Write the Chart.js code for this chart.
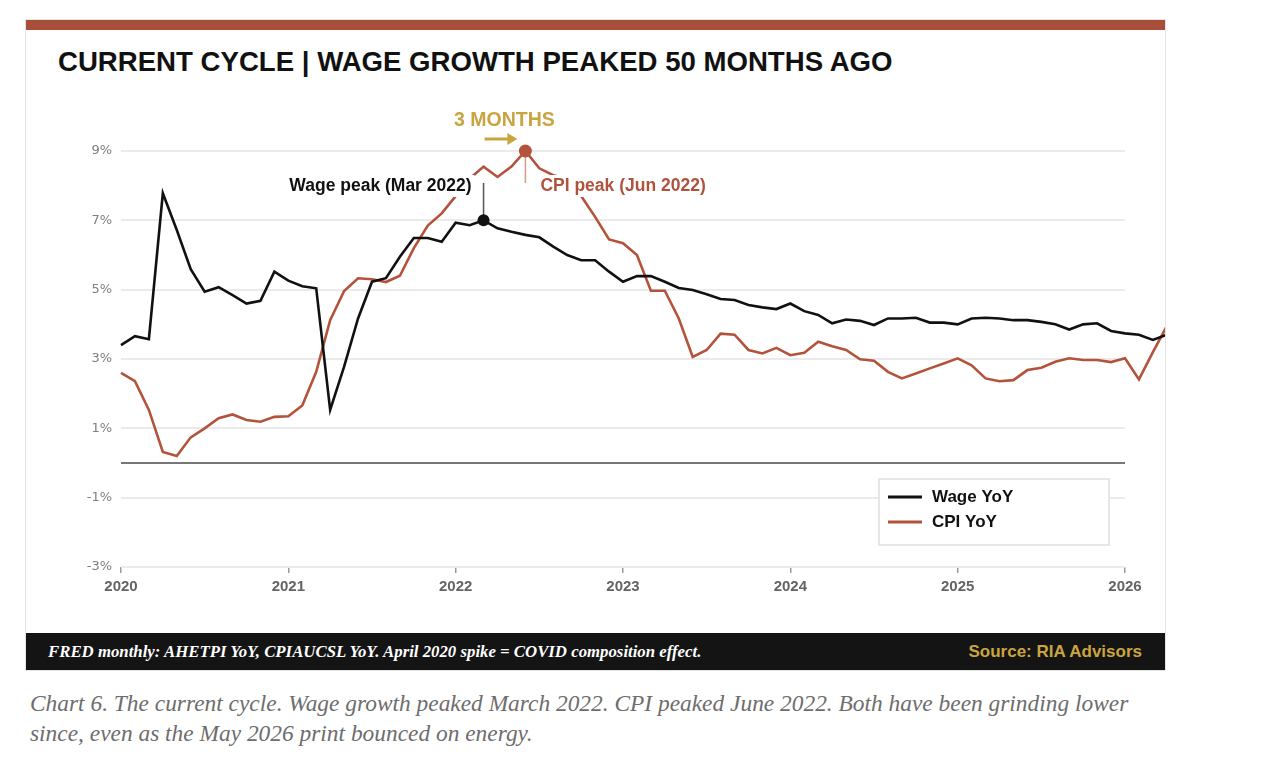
<!DOCTYPE html>
<html>
<head>
<meta charset="utf-8">
<script src="https://cdn.jsdelivr.net/npm/chart.js@4.4.1/dist/chart.umd.min.js"></script>
<style>
  body { margin: 0; width: 1278px; height: 774px; background: #fff; position: relative; overflow: hidden; font-family: "Liberation Sans", Arial, sans-serif; }
  .card { position: absolute; left: 25px; top: 19px; width: 1141px; height: 652px; border: 1px solid #e4e4e4; box-sizing: border-box; }
  .topbar { position: absolute; left: 26px; top: 20px; width: 1139px; height: 10px; background: #a84e3a; }
  .title { position: absolute; left: 58px; top: 46px; margin: 0; font-size: 27.6px; line-height: 32px; font-weight: bold; color: #111; white-space: nowrap; }
  .chartWrap { position: absolute; left: 26px; top: 95px; width: 1139px; height: 520px; }
  .footer { position: absolute; left: 26px; top: 633px; width: 1139px; height: 37px; background: #141414; }
  .footer .note { position: absolute; left: 22px; top: 0; line-height: 37px; color: #fff; font-family: "Liberation Serif", serif; font-style: italic; font-weight: bold; font-size: 16.8px; white-space: nowrap; }
  .footer .src { position: absolute; right: 23px; top: 0; line-height: 37px; color: #c9a540; font-weight: bold; font-size: 17px; white-space: nowrap; }
  .caption { position: absolute; left: 30px; top: 688px; width: 1220px; font-family: "Liberation Serif", serif; font-style: italic; font-size: 23.4px; line-height: 30px; color: #6d6d6d; }
</style>
</head>
<body>
<div class="card"></div>
<div class="topbar"></div>
<div class="title">CURRENT CYCLE | WAGE GROWTH PEAKED 50 MONTHS AGO</div>
<div class="chartWrap"><canvas id="cycleChart" width="1139" height="520"></canvas></div>
<div class="footer">
  <span class="note">FRED monthly: AHETPI YoY, CPIAUCSL YoY. April 2020 spike = COVID composition effect.</span>
  <span class="src">Source: RIA Advisors</span>
</div>
<div class="caption">Chart 6. The current cycle. Wage growth peaked March 2022. CPI peaked June 2022. Both have been grinding lower<br>since, even as the May 2026 print bounced on energy.</div>

<script>
// Monthly series, Jan 2020 onward (YoY %)
const startYear = 2020;

const wageYoY = [
  3.4, 3.66, 3.57, 7.78, 6.72, 5.59, 4.94, 5.07, 4.84, 4.6,
  4.68, 5.52, 5.26, 5.1, 5.04, 1.53, 2.78, 4.17, 5.23, 5.33,
  5.95, 6.49, 6.49, 6.38, 6.93, 6.86, 7.0, 6.77, 6.67, 6.58,
  6.51, 6.24, 6.0, 5.85, 5.85, 5.52, 5.23, 5.39, 5.39, 5.23,
  5.05, 4.99, 4.87, 4.73, 4.7, 4.56, 4.49, 4.44, 4.6, 4.38,
  4.27, 4.03, 4.14, 4.1, 3.98, 4.17, 4.17, 4.19, 4.05, 4.05,
  4.0, 4.17, 4.19, 4.17, 4.12, 4.12, 4.07, 4.0, 3.85, 4.0,
  4.03, 3.81, 3.74, 3.7, 3.55, 3.7
];

const cpiYoY = [
  2.6, 2.36, 1.53, 0.32, 0.2, 0.74, 1.0, 1.29, 1.4, 1.24,
  1.19, 1.33, 1.35, 1.66, 2.63, 4.12, 4.96, 5.33, 5.3, 5.22,
  5.4, 6.2, 6.85, 7.2, 7.7, 8.2, 8.55, 8.25, 8.55, 9.0,
  8.5, 8.3, 8.2, 7.7, 7.1, 6.45, 6.34, 6.0, 4.97, 4.97,
  4.17, 3.06, 3.26, 3.73, 3.7, 3.26, 3.16, 3.32, 3.11, 3.18,
  3.5, 3.37, 3.26, 2.99, 2.95, 2.63, 2.44, 2.58, 2.73, 2.87,
  3.02, 2.82, 2.44, 2.36, 2.39, 2.68, 2.75, 2.92, 3.02, 2.97,
  2.97, 2.91, 3.02, 2.41, 3.2, 3.95
];

const seriesLabels = ['Wage YoY', 'CPI YoY'];
const yearTicks = [2020, 2021, 2022, 2023, 2024, 2025, 2026];
const pctTicks = [-3, -1, 1, 3, 5, 7, 9];

// Peak annotations (month index from Jan 2020)
const wagePeakIdx = 26;
const cpiPeakIdx = 29;
const wagePeakLabel = 'Wage peak (Mar 2022)';
const cpiPeakLabel = 'CPI peak (Jun 2022)';
const lagLabel = '3 MONTHS';

const WAGE_COLOR = '#111111';
const CPI_COLOR = '#b4533b';
const GOLD = '#c9a540';

function toPoints(values) {
  return values.map((v, i) => ({ x: startYear + i / 12, y: v }));
}

function monthX(idx) {
  return startYear + idx / 12;
}

// draw text with a white backing so lines pass behind it
function backedText(ctx, text, x, y, align, color) {
  ctx.textAlign = align;
  const w = ctx.measureText(text).width;
  const left = align === 'right' ? x - w : x;
  ctx.fillStyle = '#fff';
  ctx.fillRect(left - 3, y - 11, w + 6, 22);
  ctx.fillStyle = color;
  ctx.fillText(text, x, y);
}

// zero line
const zeroLinePlugin = {
  id: 'zeroLine',
  beforeDatasetsDraw(chart) {
    const { ctx, chartArea, scales: { y } } = chart;
    const py = y.getPixelForValue(0);
    ctx.save();
    ctx.strokeStyle = '#4a4a4a';
    ctx.lineWidth = 1.6;
    ctx.beginPath();
    ctx.moveTo(chartArea.left, py);
    ctx.lineTo(chartArea.right, py);
    ctx.stroke();
    ctx.restore();
  }
};

// peak labels, dots and the lag arrow
const peaksPlugin = {
  id: 'peaks',
  afterDatasetsDraw(chart) {
    const { ctx, scales: { x, y } } = chart;
    const wx = x.getPixelForValue(monthX(wagePeakIdx));
    const wy = y.getPixelForValue(wageYoY[wagePeakIdx]);
    const cx = x.getPixelForValue(monthX(cpiPeakIdx));
    const cy = y.getPixelForValue(cpiYoY[cpiPeakIdx]);
    const labelY = cy + 35;

    ctx.save();
    ctx.font = 'bold 17.5px "Liberation Sans"';
    ctx.textBaseline = 'middle';
    backedText(ctx, wagePeakLabel, wx - 12, labelY, 'right', '#111');
    backedText(ctx, cpiPeakLabel, cx + 15, labelY, 'left', '#b0533c');

    // connectors
    ctx.lineWidth = 1.5;
    ctx.strokeStyle = '#555';
    ctx.beginPath();
    ctx.moveTo(wx, labelY - 3);
    ctx.lineTo(wx, wy - 5);
    ctx.stroke();
    ctx.strokeStyle = '#d49a8c';
    ctx.beginPath();
    ctx.moveTo(cx, cy + 4);
    ctx.lineTo(cx, labelY - 3);
    ctx.stroke();

    // dots
    ctx.fillStyle = WAGE_COLOR;
    ctx.beginPath();
    ctx.arc(wx, wy, 6, 0, Math.PI * 2);
    ctx.fill();
    ctx.fillStyle = CPI_COLOR;
    ctx.beginPath();
    ctx.arc(cx, cy, 6.5, 0, Math.PI * 2);
    ctx.fill();

    // 3 months arrow
    const ay = cy - 12;
    ctx.strokeStyle = GOLD;
    ctx.fillStyle = GOLD;
    ctx.lineWidth = 3;
    ctx.beginPath();
    ctx.moveTo(wx + 1, ay);
    ctx.lineTo(cx - 16, ay);
    ctx.stroke();
    ctx.beginPath();
    ctx.moveTo(cx - 8, ay);
    ctx.lineTo(cx - 18, ay - 6);
    ctx.lineTo(cx - 18, ay + 6);
    ctx.closePath();
    ctx.fill();

    ctx.font = 'bold 19.5px "Liberation Sans"';
    ctx.textAlign = 'center';
    ctx.fillText(lagLabel, (wx + cx) / 2, cy - 30);
    ctx.restore();
  }
};

// legend box inside the plot
const boxLegendPlugin = {
  id: 'boxLegend',
  afterDatasetsDraw(chart) {
    const { ctx, chartArea } = chart;
    const w = 230, h = 66;
    const left = chartArea.right - 16 - w;
    const top = chartArea.bottom - 22 - h;
    ctx.save();
    ctx.fillStyle = '#fff';
    ctx.fillRect(left, top, w, h);
    ctx.strokeStyle = '#e6e6e6';
    ctx.lineWidth = 2;
    ctx.strokeRect(left, top, w, h);
    ctx.font = 'bold 17px "Liberation Sans"';
    ctx.textBaseline = 'middle';
    ctx.textAlign = 'left';
    chart.data.datasets.forEach((ds, i) => {
      const ly = top + 18 + i * 25;
      ctx.strokeStyle = ds.borderColor;
      ctx.lineWidth = 3;
      ctx.beginPath();
      ctx.moveTo(left + 9, ly);
      ctx.lineTo(left + 43, ly);
      ctx.stroke();
      ctx.fillStyle = '#111';
      ctx.fillText(ds.label, left + 53, ly);
    });
    ctx.restore();
  }
};

Chart.defaults.font.family = '"Liberation Sans", Arial, sans-serif';

const cycleChart = new Chart(document.getElementById('cycleChart').getContext('2d'), {
  type: 'line',
  data: {
    datasets: [
      {
        label: seriesLabels[0],
        data: toPoints(wageYoY),
        borderColor: WAGE_COLOR,
        borderWidth: 2.6,
        pointRadius: 0,
        tension: 0,
        clip: false
      },
      {
        label: seriesLabels[1],
        data: toPoints(cpiYoY),
        borderColor: CPI_COLOR,
        borderWidth: 2.6,
        pointRadius: 0,
        tension: 0,
        clip: false
      }
    ]
  },
  options: {
    responsive: false,
    animation: false,
    devicePixelRatio: 1,
    layout: { padding: { top: 56, right: 40, left: 0, bottom: 0 } },
    plugins: {
      legend: { display: false },
      tooltip: { enabled: false }
    },
    scales: {
      x: {
        type: 'linear',
        afterDataLimits: s => { s.min = yearTicks[0]; s.max = yearTicks[yearTicks.length - 1]; },
        afterBuildTicks: s => { s.ticks = yearTicks.map(v => ({ value: v })); },
        afterFit: s => { s.height = 48; s.paddingLeft = 0; s.paddingRight = 0; },
        border: { display: false },
        grid: { drawOnChartArea: false, drawTicks: true, tickLength: 6, color: '#9a9a9a', lineWidth: 1.5 },
        ticks: {
          padding: 5,
          color: '#646464',
          font: { size: 15, weight: 'bold' },
          callback: v => String(v)
        }
      },
      y: {
        min: pctTicks[0],
        max: pctTicks[pctTicks.length - 1],
        afterBuildTicks: s => { s.ticks = pctTicks.map(v => ({ value: v })); },
        afterFit: s => { s.width = 95; s.paddingTop = 0; s.paddingBottom = 0; },
        border: { display: false },
        grid: { color: '#ebebeb', lineWidth: 2, drawTicks: false },
        ticks: {
          padding: 9,
          color: '#7f7f7f',
          font: { family: '"DejaVu Sans", sans-serif', size: 13 },
          callback: v => v + '%'
        }
      }
    }
  },
  plugins: [zeroLinePlugin, peaksPlugin, boxLegendPlugin]
});
</script>
</body>
</html>
